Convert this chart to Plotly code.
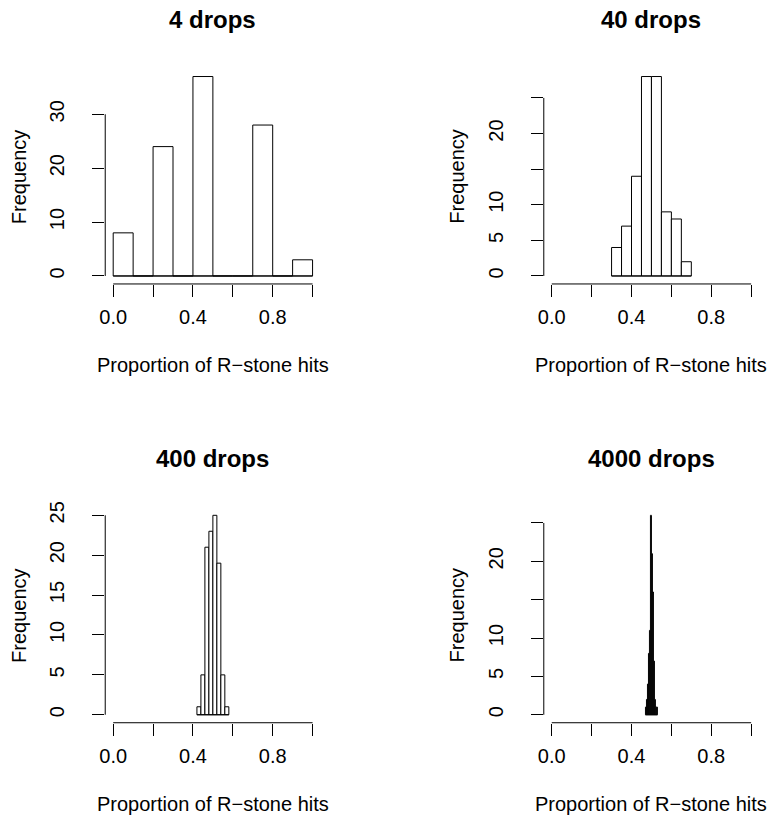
import plotly.graph_objects as go

# ---------------- data ----------------
titles = ["4 drops", "40 drops", "400 drops", "4000 drops"]

breaks_4 = [0.0, 0.1, 0.2, 0.3, 0.4, 0.5, 0.6, 0.7, 0.8, 0.9, 1.0]
counts_4 = [8, 0, 24, 0, 37, 0, 0, 28, 0, 3]

breaks_40 = [0.30, 0.35, 0.40, 0.45, 0.50, 0.55, 0.60, 0.65, 0.70]
counts_40 = [4, 7, 14, 28, 28, 9, 8, 2]

breaks_400 = [0.42, 0.44, 0.46, 0.48, 0.50, 0.52, 0.54, 0.56, 0.58]
counts_400 = [1, 5, 21, 23, 25, 19, 5, 1]

breaks_4000 = [0.470, 0.475, 0.480, 0.485, 0.490, 0.495, 0.500,
               0.505, 0.510, 0.515, 0.520, 0.525, 0.530]
counts_4000 = [1, 2, 4, 8, 11, 26, 21, 16, 7, 2, 1, 1]

x_tickvals = [0.0, 0.2, 0.4, 0.6, 0.8, 1.0]
x_ticktext = ["0.0", "", "0.4", "", "0.8", ""]

y_tickvals = [
    [0, 10, 20, 30],
    [0, 5, 10, 15, 20, 25],
    [0, 5, 10, 15, 20, 25],
    [0, 5, 10, 15, 20, 25],
]
y_ticktext = [
    ["0", "10", "20", "30"],
    ["0", "5", "10", "", "20", ""],
    ["0", "5", "10", "15", "20", "25"],
    ["0", "5", "10", "", "20", ""],
]

x_label = "Proportion of R\u2212stone hits"
y_label = "Frequency"

# ---------------- layout geometry (pixels) ----------------
W, H = 772, 823
plot_px = [  # left, right, top, bottom
    (100, 317, 63, 280),
    (542, 759, 63, 280),
    (100, 317, 505, 722),
    (542, 759, 505, 722),
]

FONT = "Liberation Sans, Arial, Helvetica, sans-serif"
FS = 20
TFS = 24

panels = [
    (breaks_4, counts_4),
    (breaks_40, counts_40),
    (breaks_400, counts_400),
    (breaks_4000, counts_4000),
]

fig = go.Figure()
layout = dict(
    width=W, height=H,
    margin=dict(l=0, r=0, t=0, b=0),
    paper_bgcolor="white", plot_bgcolor="white",
    showlegend=False,
    font=dict(family=FONT, size=FS, color="black"),
    barmode="overlay",
)
shapes = []
annotations = []

for i, ((brk, cnt), (l, r, t, b)) in enumerate(zip(panels, plot_px)):
    n = i + 1
    xa = "x" if n == 1 else f"x{n}"
    ya = "y" if n == 1 else f"y{n}"
    centers = [(brk[k] + brk[k + 1]) / 2 for k in range(len(cnt))]
    widths = [brk[k + 1] - brk[k] for k in range(len(cnt))]
    # baseline (zero-count bins are drawn as flat lines in R)
    fig.add_trace(go.Scatter(
        x=[brk[0], brk[-1]], y=[0, 0], mode="lines",
        line=dict(color="black", width=1), xaxis=xa, yaxis=ya,
        hoverinfo="skip"))
    fig.add_trace(go.Bar(
        x=centers, y=cnt, width=widths,
        marker=dict(color="white", line=dict(color="black", width=1)),
        xaxis=xa, yaxis=ya))

    ymax = max(cnt)
    xdom = [l / W, r / W]
    ydom = [1 - b / H, 1 - t / H]
    axis_common = dict(
        showgrid=False, zeroline=False, showline=False,
        ticks="outside", ticklen=12, tickwidth=1, tickcolor="black",
        tickfont=dict(family=FONT, size=FS, color="black"),
        tickmode="array", fixedrange=True,
    )
    layout["xaxis" if n == 1 else f"xaxis{n}"] = dict(
        axis_common, domain=xdom, range=[-0.04, 1.04],
        tickvals=x_tickvals, ticktext=x_ticktext, anchor=ya,
        ticklabelstandoff=3,
    )
    layout["yaxis" if n == 1 else f"yaxis{n}"] = dict(
        axis_common, domain=ydom, range=[-0.04 * ymax, 1.04 * ymax],
        tickvals=y_tickvals[i], ticktext=y_ticktext[i], anchor=xa,
        tickangle=-90, ticklabelstandoff=20,
    )
    # axis lines spanning first..last tick (R style)
    shapes.append(dict(type="line", xref=xa, yref=f"{ya} domain",
                       x0=x_tickvals[0], x1=x_tickvals[-1], y0=0, y1=0,
                       line=dict(color="black", width=1)))
    shapes.append(dict(type="line", xref=f"{xa} domain", yref=ya,
                       x0=0, x1=0, y0=y_tickvals[i][0], y1=y_tickvals[i][-1],
                       line=dict(color="black", width=1)))
    # titles
    annotations.append(dict(
        text=f"<b>{titles[i]}</b>", xref="paper", yref="paper",
        x=(l + r) / 2 / W, y=1 - (t - 49.5) / H,
        xanchor="center", yanchor="middle", showarrow=False,
        font=dict(family=FONT, size=TFS, color="black")))
    annotations.append(dict(
        text=x_label, xref="paper", yref="paper",
        x=(l + r) / 2 / W, y=1 - (b + 82) / H,
        xanchor="center", yanchor="middle", showarrow=False,
        font=dict(family=FONT, size=FS, color="black")))
    annotations.append(dict(
        text=y_label, xref="paper", yref="paper",
        x=(l - 87) / W, y=1 - (t + b) / 2 / H,
        xanchor="center", yanchor="middle", showarrow=False, textangle=-90,
        font=dict(family=FONT, size=FS, color="black")))

layout["shapes"] = shapes
layout["annotations"] = annotations
fig.update_layout(**layout)
fig.write_html("out.html")
